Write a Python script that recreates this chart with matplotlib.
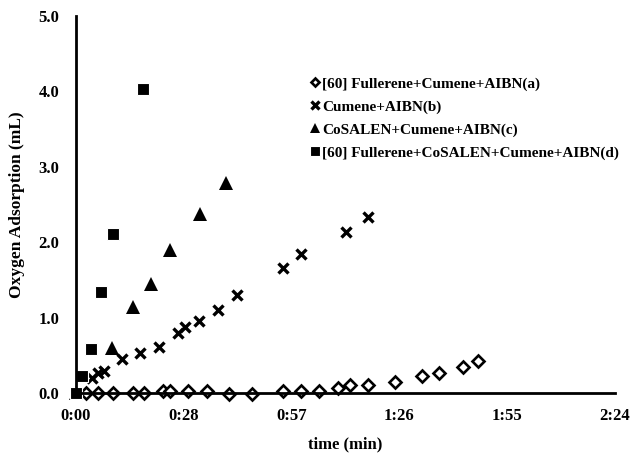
import matplotlib
matplotlib.use("Agg")
import matplotlib.pyplot as plt

# time in minutes, oxygen adsorption in mL
t_a = [2.8, 5.8, 9.8, 15.1, 18.1, 23.2, 25.0, 29.9, 35.0, 40.9, 47.0, 55.3, 60.1,
       65.0, 70.1, 73.3, 78.1, 85.3, 92.3, 97.1, 103.3, 107.3]
v_a = [0.0, 0.0, 0.0, 0.0, 0.0, 0.03, 0.03, 0.03, 0.03, -0.01, -0.01, 0.02, 0.03,
       0.03, 0.07, 0.11, 0.11, 0.15, 0.23, 0.27, 0.35, 0.42]

t_b = [4.2, 5.8, 7.4, 12.2, 17.0, 22.1, 27.2, 29.1, 32.8, 37.9, 43.0, 55.3, 60.2, 72.2, 78.1]
v_b = [0.20, 0.27, 0.29, 0.45, 0.53, 0.61, 0.80, 0.88, 0.95, 1.10, 1.30, 1.66, 1.84, 2.14, 2.33]

t_c = [0.0, 9.5, 15.1, 19.9, 25.0, 33.1, 40.0]
v_c = [0.0, 0.60, 1.14, 1.45, 1.90, 2.37, 2.79]

t_d = [0.0, 1.7, 3.9, 6.8, 9.8, 17.8]
v_d = [0.0, 0.23, 0.58, 1.34, 2.11, 4.03]

labels = ["[60] Fullerene+Cumene+AIBN(a)", "Cumene+AIBN(b)",
          "CoSALEN+Cumene+AIBN(c)", "[60] Fullerene+CoSALEN+Cumene+AIBN(d)"]

x_ticks = [0, 28.8, 57.6, 86.4, 115.2, 144]
x_ticklabels = ["0:00", "0:28", "0:57", "1:26", "1:55", "2:24"]
y_ticks = [0, 1, 2, 3, 4, 5]

plt.rcParams["font.family"] = ["Liberation Serif", "DejaVu Serif"]
plt.rcParams["font.weight"] = "bold"

fig = plt.figure(figsize=(6.42, 4.59), dpi=100)
ax = fig.add_axes([0.1184, 0.1438, 0.8396, 0.8214])

ax.plot(t_a, v_a, linestyle="none", marker="D", ms=6, mfc="white", mec="black",
        mew=1.9, label=labels[0], clip_on=False)
ax.plot(t_b, v_b, linestyle="none", marker="x", ms=7.5, mec="black", mew=2.4,
        label=labels[1], clip_on=False)
ax.plot(t_c, v_c, linestyle="none", marker="^", ms=10.5, color="black", mew=0,
        label=labels[2], clip_on=False)
ax.plot(t_d, v_d, linestyle="none", marker="s", ms=9, mfc="black", mec="white",
        mew=0.8, label=labels[3], clip_on=False)

ax.set_xlim(0, 144)
ax.set_ylim(0, 5)
ax.set_xticks(x_ticks)
ax.set_xticklabels(x_ticklabels)
ax.set_yticks(y_ticks)
ax.set_yticklabels([f"{v:.1f}" for v in y_ticks])
ax.tick_params(length=0, labelsize=12)
ax.tick_params(axis="x", pad=11)
ax.tick_params(axis="y", pad=12)
for lab in ax.get_xticklabels() + ax.get_yticklabels():
    lab.set_fontweight("bold")

for s in ["top", "right"]:
    ax.spines[s].set_visible(False)
for s in ["left", "bottom"]:
    ax.spines[s].set_linewidth(2)

ax.set_xlabel("time (min)", fontsize=12, fontweight="bold", labelpad=9)
ax.set_ylabel("Oxygen Adsorption (mL)", fontsize=12.5, fontweight="bold", labelpad=10)

leg = ax.legend(loc="upper left", bbox_to_anchor=(0.41, 0.875), frameon=False,
                handlelength=0.5, handletextpad=0.25, labelspacing=0.6,
                prop={"weight": "bold", "size": 11}, markerscale=0.75)

fig.savefig("out.png", dpi=100)
